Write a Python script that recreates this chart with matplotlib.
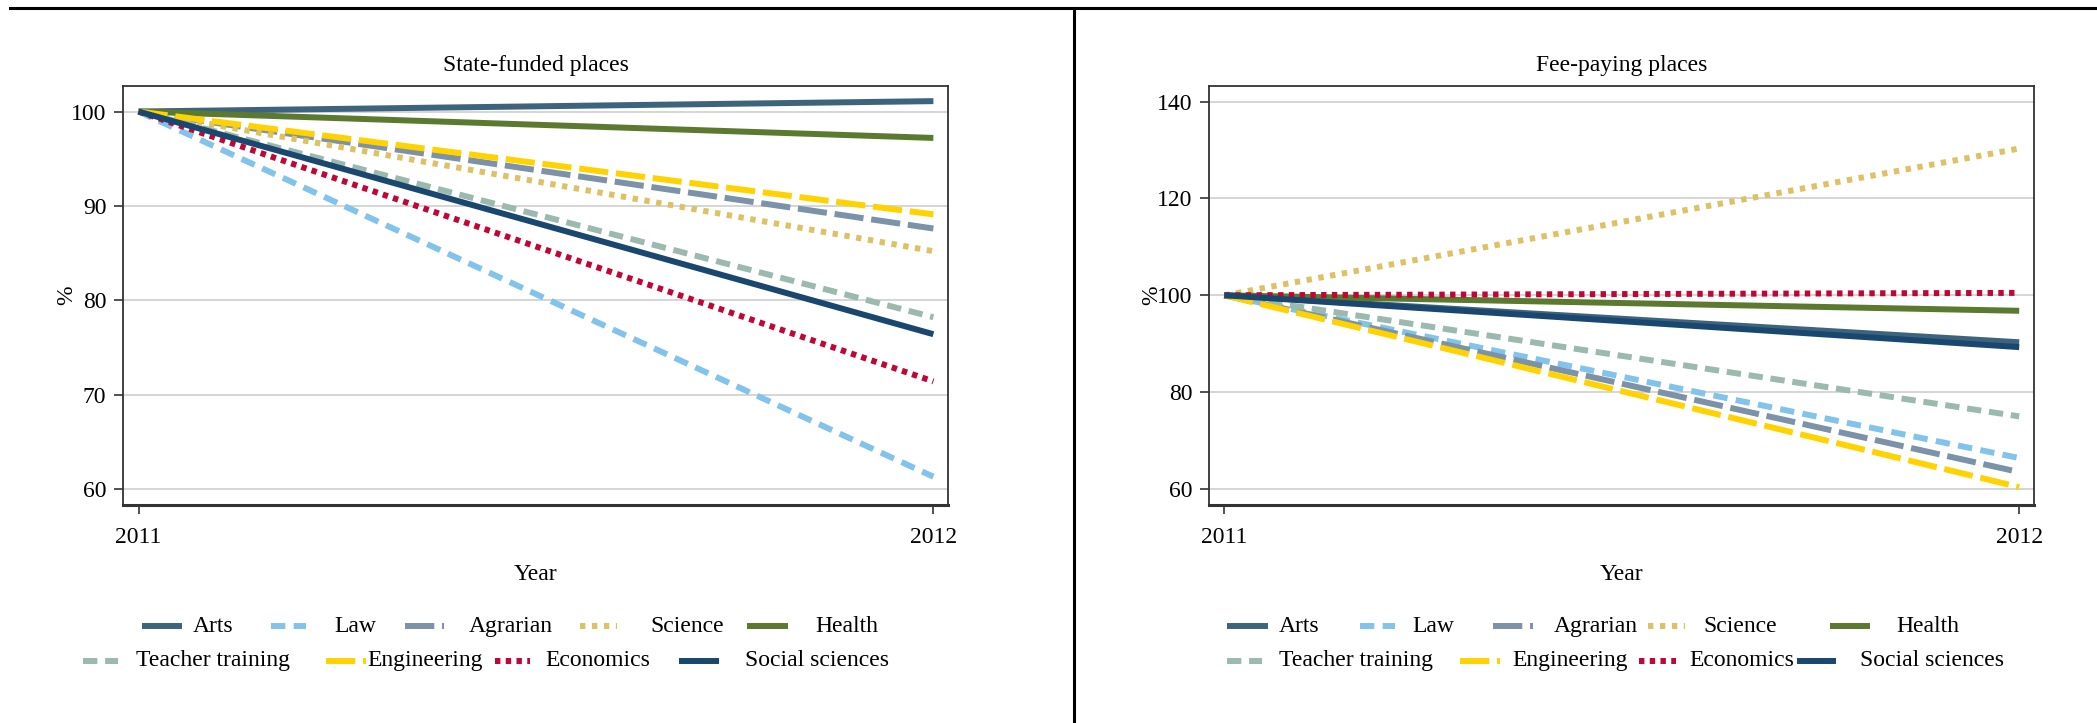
import matplotlib
matplotlib.use('AGG')
import matplotlib.pyplot as plt
from matplotlib.lines import Line2D

plt.rcParams['font.family'] = ['Liberation Serif', 'DejaVu Serif']

years = [2011, 2012]
fields = ['Arts', 'Law', 'Agrarian', 'Science', 'Health',
          'Teacher training', 'Engineering', 'Economics', 'Social sciences']
# index 2011 = 100
state_2011 = [100, 100, 100, 100, 100, 100, 100, 100, 100]
state_2012 = [101.1, 61.3, 87.6, 85.2, 97.2, 78.2, 89.1, 71.4, 76.4]
fee_2011 = [100, 100, 100, 100, 100, 100, 100, 100, 100]
fee_2012 = [90.3, 66.4, 63.5, 130.3, 96.8, 75.0, 60.4, 100.5, 89.3]
state_ticks = [60, 70, 80, 90, 100]
fee_ticks = [60, 80, 100, 120, 140]

colors = ['#3E647D', '#82C3EC', '#7B92A8', '#DDC265', '#5B7A2F',
          '#9CB9AE', '#FFD200', '#C10534', '#1A476F']
# dash patterns in units of line width
dashes = [None, (2.4, 1.4), (4.9, 1.3), (0.9, 1.1), None,
          (2.4, 1.3), (4.9, 1.3), (0.9, 0.9), None]

# legend layout (axes fraction): key start, key end, text x, row
key_left = [(0.023, 0.071, 0.085, 0), (0.179, 0.221, 0.256, 0),
            (0.341, 0.389, 0.419, 0), (0.553, 0.599, 0.639, 0),
            (0.756, 0.806, 0.839, 0), (-0.048, -0.006, 0.016, 1),
            (0.246, 0.294, 0.296, 1), (0.450, 0.493, 0.512, 1),
            (0.674, 0.722, 0.754, 1)]
key_right = [(0.022, 0.072, 0.085, 0), (0.183, 0.225, 0.247, 0),
             (0.344, 0.393, 0.418, 0), (0.532, 0.577, 0.599, 0),
             (0.753, 0.801, 0.833, 0), (0.022, 0.064, 0.085, 1),
             (0.304, 0.353, 0.368, 1), (0.521, 0.566, 0.582, 1),
             (0.712, 0.760, 0.789, 1)]
row_y = [-0.289, -0.372]

FS = 17


def style(ln, i):
    if dashes[i] is not None:
        ln.set_dashes(dashes[i])


def panel(ax, title, start, end, ticks, ylim, keys):
    for i, name in enumerate(fields):
        ln, = ax.plot(years, [start[i], end[i]], color=colors[i], lw=4.3,
                      solid_capstyle='butt', dash_capstyle='butt', label=name)
        style(ln, i)
    ax.set_xlim(2011 - 0.0194, 2012 + 0.019)
    ax.set_ylim(*ylim)
    ax.set_xticks(years)
    ax.set_xticklabels(['2011', '2012'])
    ax.set_yticks(ticks)
    ax.grid(axis='y', color='#D2D2D2', lw=1.3)
    ax.set_axisbelow(True)
    ax.tick_params(direction='out', length=6.5, width=1.1, labelsize=FS,
                   color='#222222')
    ax.tick_params(axis='y', pad=5.5)
    ax.tick_params(axis='x', pad=9)
    for s in ['top', 'right', 'left']:
        ax.spines[s].set_linewidth(1.3)
        ax.spines[s].set_color('#333333')
    ax.spines['bottom'].set_linewidth(2.2)
    ax.spines['bottom'].set_color('#333333')
    ax.set_title(title, fontsize=FS, pad=11)
    ax.set_xlabel('Year', fontsize=FS, labelpad=12)
    ax.set_ylabel('%', fontsize=FS)
    ax.yaxis.set_label_coords(-0.056, 0.5)
    # hand-placed legend, two rows like the original
    for i, name in enumerate(fields):
        x0, x1, tx, row = keys[i]
        y = row_y[row]
        ln = Line2D([x0, x1], [y, y], color=colors[i], lw=4.3,
                    solid_capstyle='butt', dash_capstyle='butt',
                    transform=ax.transAxes, clip_on=False)
        style(ln, i)
        ax.add_line(ln)
        ax.text(tx, y, name, transform=ax.transAxes, fontsize=FS,
                ha='left', va='center')


fig = plt.figure(figsize=(20.97, 7.23), dpi=100)
ax1 = fig.add_axes([0.0587, 0.3015, 0.3936, 0.5795])
ax2 = fig.add_axes([0.5765, 0.3015, 0.3936, 0.5795])
panel(ax1, 'State-funded places', state_2011, state_2012, state_ticks,
      (58.3, 102.7), key_left)
panel(ax2, 'Fee-paying places', fee_2011, fee_2012, fee_ticks,
      (56.7, 143.2), key_right)

# frame lines of the combined graph
fig.add_artist(Line2D([0.005, 1.0], [0.989, 0.989], color='black', lw=2.2,
                      transform=fig.transFigure))
fig.add_artist(Line2D([0.512, 0.512], [0.0, 0.989], color='black', lw=2.2,
                      transform=fig.transFigure))

plt.savefig('out.png', dpi=100)
